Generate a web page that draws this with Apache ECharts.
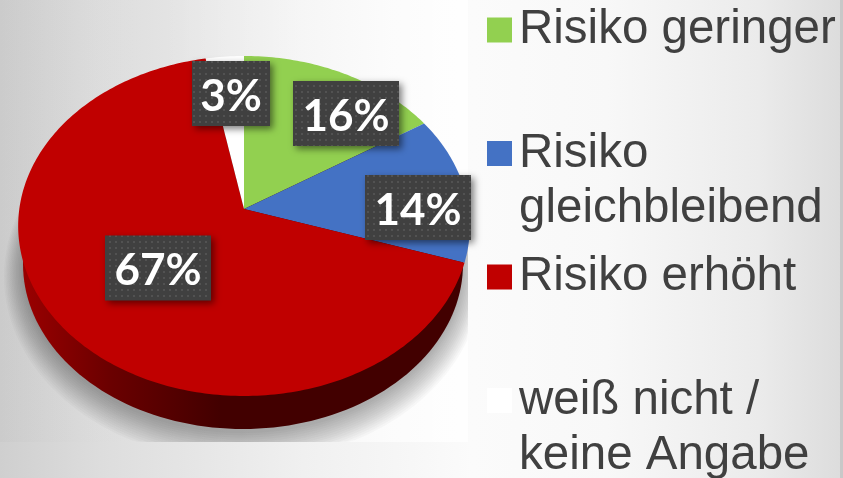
<!DOCTYPE html>
<html><head><meta charset="utf-8">
<style>html,body{margin:0;padding:0;background:#fff}#c{width:843px;height:478px}</style>
<script src="https://cdn.jsdelivr.net/npm/echarts@6/dist/echarts.min.js"></script>
</head><body><div id="c"></div>
<script>
const categories = ['Risiko geringer', 'Risiko\ngleichbleibend', 'Risiko erhöht', 'weiß nicht /\nkeine Angabe'];
const shares = [16, 14, 67, 3];
const colors = ['#92d050', '#4472c4', '#c00000', '#ffffff'];
const labelBoxes = [[346, 113.5, 106], [418, 207.5, 106], [158, 268, 106], [231, 93.5, 78]];

const apex = [244, 209], K = 0.1, A = 168.3, B = 224.7;
const total = shares.reduce((a, b) => a + b, 0);
function rim(deg) {
  const t = deg * Math.PI / 180, u = Math.sin(t), v = Math.cos(t), d = 1 + K * v;
  return [apex[0] + B * u / d, apex[1] - A * v / d];
}
function ellipse(cx, cy, rx, ry) {
  const p = [];
  for (let i = 0; i < 360; i += 2) {
    const t = i * Math.PI / 180;
    p.push([cx + rx * Math.cos(t), cy + ry * Math.sin(t)]);
  }
  return p;
}
const tile = document.createElement('canvas');
tile.width = 6; tile.height = 6;
const tc = tile.getContext('2d');
tc.fillStyle = '#404040'; tc.fillRect(0, 0, 6, 6);
tc.fillStyle = '#525252'; tc.fillRect(1, 1, 2, 2);

function sliceRenderer(idx) {
  return function (params, api) {
    const value = api.value(0);
    const before = shares.slice(0, idx).reduce((a, b) => a + b, 0);
    const a0 = before / total * 360, a1 = (before + value) / total * 360;
    const pts = [apex];
    for (let a = a0; a < a1; a += 1) pts.push(rim(a));
    pts.push(rim(a1));
    const box = labelBoxes[idx], w = box[2], h = 65;
    return {
      type: 'group',
      children: [
        { type: 'polygon', shape: { points: pts }, style: { fill: api.visual('color') } },
        { type: 'rect', z2: 10, shape: { x: box[0] - w / 2, y: box[1] - h / 2, width: w, height: h },
          style: { fill: { image: tile, repeat: 'repeat' }, shadowBlur: 7, shadowOffsetX: 3, shadowOffsetY: 3, shadowColor: 'rgba(0,0,0,0.5)' } },
        { type: 'text', z2: 11, x: box[0], y: box[1] + 3,
          style: { text: value + '%', fill: '#fff', font: 'bold 44px Lato', align: 'center', verticalAlign: 'middle' } }
      ]
    };
  };
}
function depthRenderer(params, api) {
  const children = [];
  for (let i = 14; i >= 1; i--) {
    const pts = ellipse(243, 268 + 0.6 * i, 218 + 1.5 * i, 163 + 1.6 * i)
      .map(p => [Math.max(3, Math.min(468, p[0])), Math.min(442, p[1])]);
    children.push({ type: 'polygon', shape: { points: pts }, style: { fill: 'rgba(0,0,0,0.024)' } });
  }
  children.push({ type: 'polygon', shape: { points: ellipse(243, 264, 220, 165) },
    style: { fill: { type: 'linear', x: 0, y: 0, x2: 1, y2: 0, colorStops: [
      { offset: 0, color: '#9a0000' }, { offset: 0.2, color: '#6a0000' },
      { offset: 0.45, color: '#420000' }, { offset: 1, color: '#420000' }] } } });
  return { type: 'group', children };
}
const chart = echarts.init(document.getElementById('c'), null, { renderer: 'canvas' });
chart.setOption({
  animation: false,
  backgroundColor: { type: 'linear', x: 0, y: 0, x2: 1, y2: 0, colorStops: [
    { offset: 0, color: '#cfcfcf' }, { offset: 0.12, color: '#dddddd' }, { offset: 0.36, color: '#f0f0f0' },
    { offset: 0.56, color: '#fbfbfb' }, { offset: 0.72, color: '#f8f8f8' }, { offset: 0.9, color: '#ebebeb' }, { offset: 1, color: '#dcdcdc' }] },
  graphic: [
    { type: 'rect', z: -1, shape: { x: 0, y: 0, width: 468, height: 442 },
      style: { fill: { type: 'linear', x: 0, y: 0, x2: 1, y2: 0, colorStops: [
        { offset: 0, color: 'rgba(0,0,0,0.02)' }, { offset: 0.35, color: 'rgba(255,255,255,0)' }, { offset: 1, color: 'rgba(255,255,255,0.85)' }] } } },
    { type: 'rect', z: -1, shape: { x: 840, y: 0, width: 3, height: 478 }, style: { fill: '#c8c8c8' } }
  ],
  legend: {
    orient: 'vertical', left: 482, top: -2.5, height: 800, itemWidth: 25, itemHeight: 25, itemGap: 13.5,
    icon: 'rect', selectedMode: false, data: categories,
    formatter: n => n.indexOf('\n') >= 0 ? '\n' + n : n,
    textStyle: { color: '#404040', fontFamily: 'Liberation Sans', fontSize: 47.5, lineHeight: 55, padding: [0, 0, 0, 2] }
  },
  series: [
    { type: 'custom', name: 'Tiefe', coordinateSystem: 'none', silent: true, z: 1, data: [[shares[2]]], renderItem: depthRenderer }
  ].concat(categories.map((name, i) => ({
    type: 'custom', name, coordinateSystem: 'none', silent: true, z: 2,
    itemStyle: { color: colors[i] }, data: [[shares[i]]], renderItem: sliceRenderer(i)
  })))
});
</script></body></html>
